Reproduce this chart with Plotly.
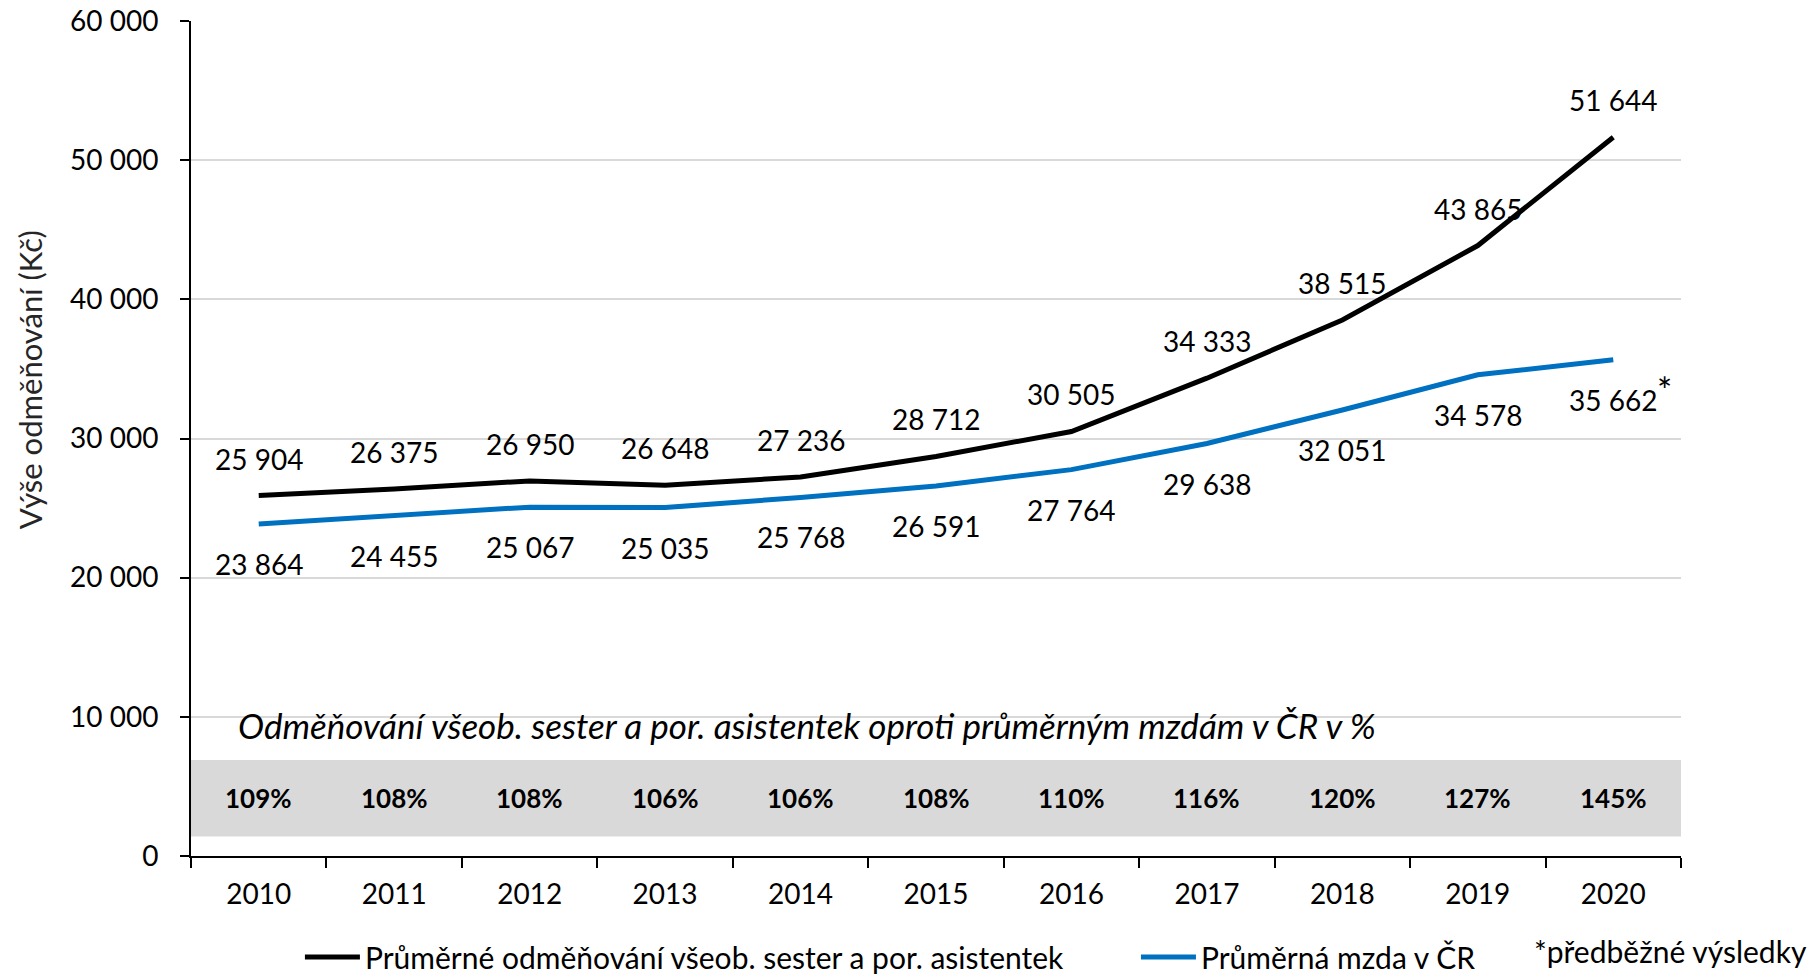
import plotly.graph_objects as go

years = ["2010", "2011", "2012", "2013", "2014", "2015", "2016", "2017", "2018", "2019", "2020"]
nurses = [25904, 26375, 26950, 26648, 27236, 28712, 30505, 34333, 38515, 43865, 51644]
avg_wage = [23864, 24455, 25067, 25035, 25768, 26591, 27764, 29638, 32051, 34578, 35662]
ratio_pct = [109, 108, 108, 106, 106, 108, 110, 116, 120, 127, 145]
y_tickvals = [0, 10000, 20000, 30000, 40000, 50000, 60000]

name_nurses = "Průměrné odměňování všeob. sester a por. asistentek"
name_wage = "Průměrná mzda v ČR"
band_title = "Odměňování všeob. sester a por. asistentek oproti průměrným mzdám v ČR v %"
y_title = "Výše odměňování (Kč)"
footnote = "*předběžné výsledky"

FONT = "Lato"
FS = 28
BLACK = "#000000"
BLUE = "#0070C0"
GRID = "#D9D9D9"


def fmt(v):
    return f"{v:,}".replace(",", " ")


fig = go.Figure()
fig.add_trace(go.Scatter(x=years, y=nurses, mode="lines", name=name_nurses,
                         line=dict(color=BLACK, width=5), legend="legend"))
fig.add_trace(go.Scatter(x=years, y=avg_wage, mode="lines", name=name_wage,
                         line=dict(color=BLUE, width=5), legend="legend2"))

annotations = []
for i, v in enumerate(nurses):
    annotations.append(dict(x=i, y=v, xref="x", yref="y", text=fmt(v), showarrow=False,
                            yshift=37, font=dict(family=FONT, size=FS, color=BLACK)))
for i, v in enumerate(avg_wage):
    annotations.append(dict(x=i, y=v, xref="x", yref="y", text=fmt(v), showarrow=False,
                            yshift=-40, font=dict(family=FONT, size=FS, color=BLACK)))
# asterisk on last (preliminary) value
annotations.append(dict(x=len(avg_wage) - 1, y=avg_wage[-1], xref="x", yref="y", text="*", showarrow=False,
                        xshift=51, yshift=-30, font=dict(family=FONT, size=36, color=BLACK)))
for i, p in enumerate(ratio_pct):
    annotations.append(dict(x=i, y=4150, xref="x", yref="y", text=f"<b>{p}%</b>", showarrow=False,
                            font=dict(family=FONT, size=26, color=BLACK)))
annotations.append(dict(x=0.4137, y=9400, xref="paper", yref="y", text=f"<i>{band_title}</i>",
                        showarrow=False, font=dict(family=FONT, size=35, color=BLACK)))
annotations.append(dict(x=1.086, y=-0.1138, xref="paper", yref="paper", text=footnote,
                        xanchor="right", yanchor="middle", showarrow=False,
                        font=dict(family=FONT, size=30, color=BLACK)))
annotations.append(dict(x=-0.108, y=0.570, xref="paper", yref="paper", text=y_title, textangle=-90,
                        xanchor="center", yanchor="middle", showarrow=False,
                        font=dict(family=FONT, size=31, color="#262626")))

legend_common = dict(orientation="h", xanchor="left", y=-0.121, yanchor="middle", itemwidth=55,
                     font=dict(family=FONT, size=30, color=BLACK), bgcolor="rgba(0,0,0,0)")

fig.update_layout(
    width=1819, height=977,
    margin=dict(l=191, r=138, t=21, b=121, autoexpand=False),
    paper_bgcolor="white", plot_bgcolor="white",
    font=dict(family=FONT, size=FS, color=BLACK),
    annotations=annotations,
    shapes=[dict(type="rect", xref="x domain", yref="y", x0=0, x1=1, y0=1400, y1=6900,
                 fillcolor=GRID, line=dict(width=0), layer="below")],
    showlegend=True,
    legend=dict(x=0.0731, **legend_common),
    legend2=dict(x=0.6342, **legend_common),
)
fig.update_xaxes(type="category", range=[-0.5, 10.5], tickson="boundaries",
                 showline=True, linecolor=BLACK, linewidth=2, ticks="outside", ticklen=10,
                 tickcolor=BLACK, tickwidth=2, showgrid=False, ticklabelstandoff=12,
                 automargin=False, ticklabeloverflow="allow",
                 tickfont=dict(family=FONT, size=FS, color=BLACK))
fig.update_yaxes(range=[0, 60000], tickvals=y_tickvals, ticktext=[fmt(v) for v in y_tickvals],
                 showline=True, linecolor=BLACK, linewidth=2, ticks="outside", ticklen=9,
                 tickcolor=BLACK, tickwidth=2, showgrid=True, gridcolor=GRID, gridwidth=2,
                 zeroline=False, ticklabelstandoff=16, automargin=False, ticklabeloverflow="allow",
                 tickfont=dict(family=FONT, size=FS, color=BLACK))

fig.write_html("out.html", config={"displayModeBar": False},
               post_script="document.body.style.margin='0';document.body.style.overflow='hidden';")
